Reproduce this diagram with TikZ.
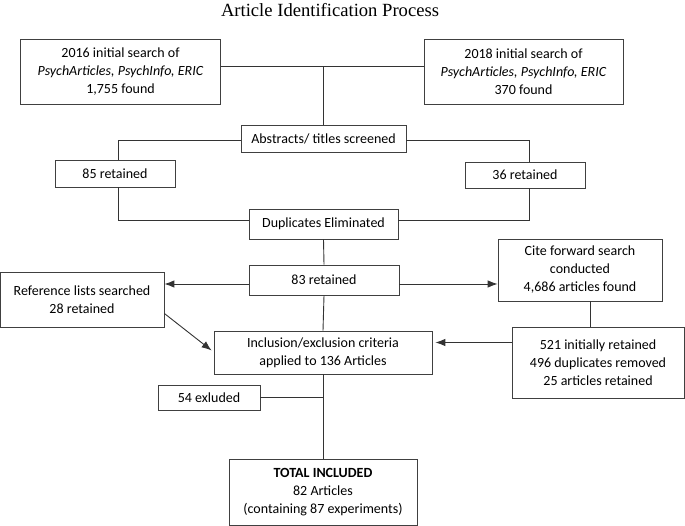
\documentclass[tikz,border=0pt]{standalone}
\usepackage{fontspec}
\setmainfont{Carlito}
\newfontfamily\titlefont{Liberation Serif}
\usetikzlibrary{arrows.meta}
\begin{document}
\begin{tikzpicture}[x=1pt,y=-1pt,
  box/.style={draw=black!75,line width=0.8pt,inner sep=0pt,align=center,
    font=\fontsize{14}{18}\selectfont},
  conn/.style={draw=black!80,line width=0.9pt},
  arr/.style={conn,-{Latex[length=10pt,width=7.5pt]}}]
\useasboundingbox (0,0) rectangle (685,526);
\node[font=\titlefont\fontsize{18.6}{22}\selectfont] (title) at (330,10) {Article Identification Process};
\node[box,minimum width=200,minimum height=65] (box1) at (120.5,71.5) {2016 initial search of\\\textit{PsychArticles, PsychInfo, ERIC}\\1,755 found};
\node[box,minimum width=199,minimum height=65] (box2) at (523.5,71.5) {2018 initial search of\\\textit{PsychArticles, PsychInfo, ERIC}\\370 found};
\node[box,minimum width=165,minimum height=27] (abs) at (323.5,138.5) {Abstracts/ titles screened};
\node[box,minimum width=120,minimum height=27] (r85) at (115,173.5) {85 retained};
\node[box,minimum width=120,minimum height=26] (r36) at (525,175) {36 retained};
\node[box,minimum width=149,minimum height=30] (dup) at (323.5,224) {Duplicates Eliminated};
\node[box,minimum width=150,minimum height=30] (n83) at (324,280) {83 retained};
\node[box,minimum width=164,minimum height=55] (ref) at (82,299.5) {Reference lists searched\\28 retained};
\node[box,minimum width=164,minimum height=62] (cite) at (580,270) {Cite forward search\\conducted\\4,686 articles found};
\node[box,minimum width=218,minimum height=43] (incl) at (323,352.5) {Inclusion/exclusion criteria\\applied to 136 Articles};
\node[box,minimum width=172,minimum height=71] (n521) at (598,362.5) {521 initially retained\\496 duplicates removed\\25 articles retained};
\node[box,minimum width=102,minimum height=25] (ex) at (209,397.5) {54 exluded};
\node[box,minimum width=188,minimum height=66] (total) at (323,492) {\textbf{TOTAL INCLUDED}\\82 Articles\\(containing 87 experiments)};
% connectors
\coordinate (j1) at ([yshift=5pt]box1.east);
\draw[conn] (j1) -- ([yshift=5pt]box2.west);
\draw[conn] (j1 -| abs.north) -- (abs.north);
\draw[conn] ([yshift=-1.5pt]abs.west) -| ([xshift=3.5pt]r85.north);
\draw[conn] ([yshift=-1.5pt]abs.east) -| ([xshift=4pt]r36.north);
\draw[conn] ([xshift=3.5pt]r85.south) |- ([yshift=4pt]dup.west);
\draw[conn] ([xshift=4pt]r36.south) |- ([yshift=4pt]dup.east);
\draw[conn] (dup.south) -- (n83.north);
\coordinate (a83) at ([yshift=-4pt]n83.west);
\draw[arr] (a83) -- (a83 -| ref.east);
\coordinate (b83) at ([yshift=-4pt]n83.east);
\draw[arr] (b83) -- (b83 -| cite.west);
\draw[conn] (n83.south) -- (incl.north);
\draw[arr] ([yshift=-14pt]ref.east) -- ([xshift=-2pt,yshift=2pt]incl.west);
\coordinate (c1) at ([xshift=10pt]cite.south);
\draw[conn] (c1) -- (c1 |- n521.north);
\coordinate (d1) at ([yshift=20pt]n521.west);
\draw[arr] (d1) -- ([xshift=3pt]d1 -| incl.east);
\draw[conn] (incl.south) -- (total.north);
\draw[conn] (ex.east) -- (ex.east -| incl.south);
\end{tikzpicture}
\end{document}
